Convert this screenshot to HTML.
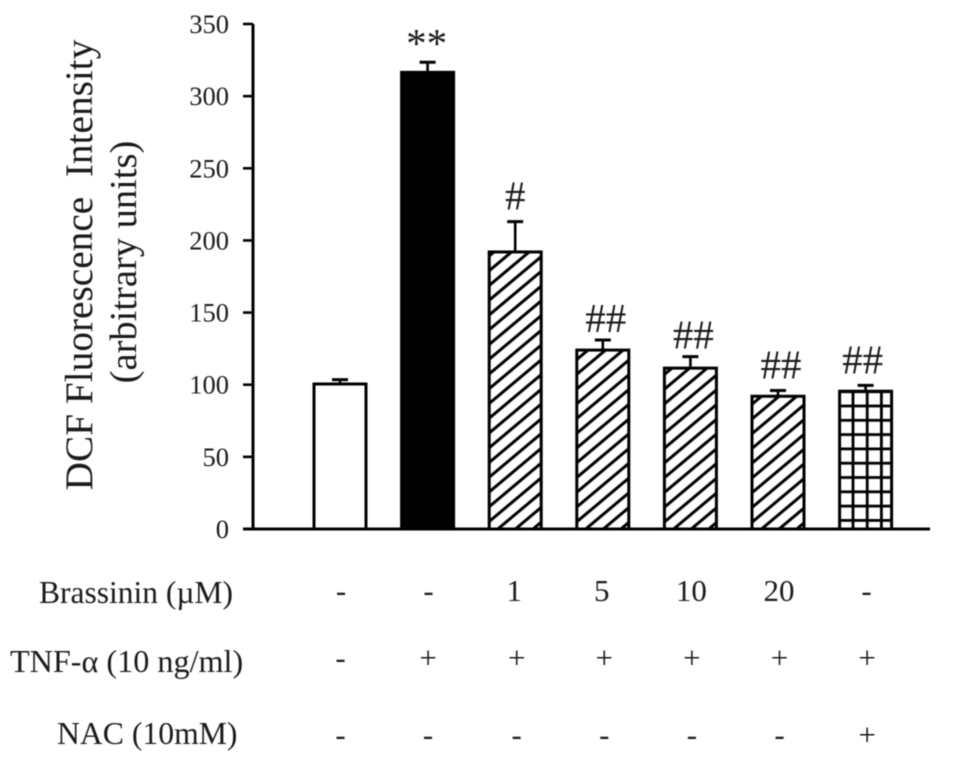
<!DOCTYPE html>
<html lang="en">
<head>
<meta charset="utf-8">
<title>DCF Fluorescence Intensity</title>
<style>
html,body{margin:0;padding:0;background:#fff;width:973px;height:758px;overflow:hidden}
svg{display:block;filter:blur(0.45px)}
text{font-family:"Liberation Serif",serif;fill:#1a1a1a}
</style>
</head>
<body>
<svg id="chart" width="973" height="758" viewBox="0 0 973 758" xmlns="http://www.w3.org/2000/svg">
<defs>
<pattern id="hatch" patternUnits="userSpaceOnUse" width="11.3" height="11.3" patternTransform="rotate(-40 0 529)">
<rect width="11.3" height="11.3" fill="#fff"/>
<rect y="0" width="11.3" height="3" fill="#000"/>
</pattern>
<pattern id="grid" patternUnits="userSpaceOnUse" width="14.2" height="14.3" x="837.4" y="390.3">
<rect width="14.2" height="14.3" fill="#fff"/>
<rect x="0" y="0" width="2.8" height="14.3" fill="#000"/>
<rect x="0" y="0" width="14.2" height="2.8" fill="#000"/>
</pattern>
</defs>
<g id="plot"></g>
<text transform="translate(92 265) rotate(-90)" text-anchor="middle" font-size="39.3" xml:space="preserve">DCF Fluorescence  Intensity</text>
<text transform="translate(136 262) rotate(-90)" text-anchor="middle" font-size="38.5">(arbitrary units)</text>
<text x="39" y="603" font-size="31.5">Brassinin (µM)</text>
<text x="10" y="672" font-size="32.2">TNF-α (10 ng/ml)</text>
<text x="57" y="744" font-size="31.7">NAC (10mM)</text>
</svg>
<script>
const categories = ["control", "tnf", "brassinin-1", "brassinin-5", "brassinin-10", "brassinin-20", "nac"];
const meanValues = [100.5, 316.5, 192, 124, 111.5, 92, 95.5];
const errorValues = [3, 7, 21, 7, 8, 4, 4];
const significance = ["", "**", "#", "##", "##", "##", "##"];
const yTicks = [0, 50, 100, 150, 200, 250, 300, 350];
const brassininRow = ["-", "-", "1", "5", "10", "20", "-"];
const tnfRow = ["-", "+", "+", "+", "+", "+", "+"];
const nacRow = ["-", "-", "-", "-", "-", "-", "+"];
const barFills = ["#fff", "#000", "url(#hatch)", "url(#hatch)", "url(#hatch)", "url(#hatch)", "url(#grid)"];

const NS = "http://www.w3.org/2000/svg";
const plot = document.getElementById("plot");
const Y0 = 529, PX_PER_UNIT = 505 / 350;
const X0 = 340, STEP = 87.6, BAR_W = 52;
function yScale(v) { return Y0 - v * PX_PER_UNIT; }
function xScale(i) { return X0 + i * STEP; }
function make(tag, attrs) {
  const el = document.createElementNS(NS, tag);
  for (const k in attrs) el.setAttribute(k, attrs[k]);
  plot.appendChild(el);
  return el;
}
function line(x1, y1, x2, y2, w) {
  return make("line", { x1: x1, y1: y1, x2: x2, y2: y2, stroke: "#000", "stroke-width": w });
}

yTicks.forEach(function (t) {
  const y = yScale(t);
  const tick = line(243, y, 253, y, 2.6);
  
  
  const lab = make("text", { x: 229, y: y + 9, "text-anchor": "end", "font-size": 26.5 });
  lab.textContent = t;
  
  
});

categories.forEach(function (c, i) {
  const x = xScale(i), top = yScale(meanValues[i]), errTop = yScale(meanValues[i] + errorValues[i]);
  const stem = line(x, top, x, errTop, 2.6);
  
  
  const cap = line(x - 8, errTop, x + 8, errTop, 3);
  
  
  const bar = make("rect", { x: x - BAR_W / 2, y: top, width: BAR_W, height: Y0 - top, fill: barFills[i], stroke: "#000", "stroke-width": 3 });
  
  
  if (significance[i]) {
    const sigDx = i === 6 ? -3 : i === 1 ? -1 : i === 2 ? 0 : 3;
    const sigGap = i === 1 ? 5 : (i === 3 || i === 4) ? 8 : 12;
    const s = make("text", { x: x + sigDx, y: errTop - sigGap, "text-anchor": "middle", "font-size": 41 });
    s.textContent = significance[i];
    
    
  }
  [[brassininRow, 601], [tnfRow, 668], [nacRow, 745]].forEach(function (r) {
    const dx = r[0] === brassininRow ? ((i === 2 || i === 3) ? -1 : 1) : (i > 1 ? 1.5 : 0.5);
    const t = make("text", { x: x + dx, y: r[1], "text-anchor": "middle", "font-size": 31 });
    t.textContent = r[0][i];
    
    
  });
});

const yAxis = line(253, 24, 253, 529, 3);


const xAxis = line(243, 529, 930, 529, 3);


</script>
</body>
</html>
